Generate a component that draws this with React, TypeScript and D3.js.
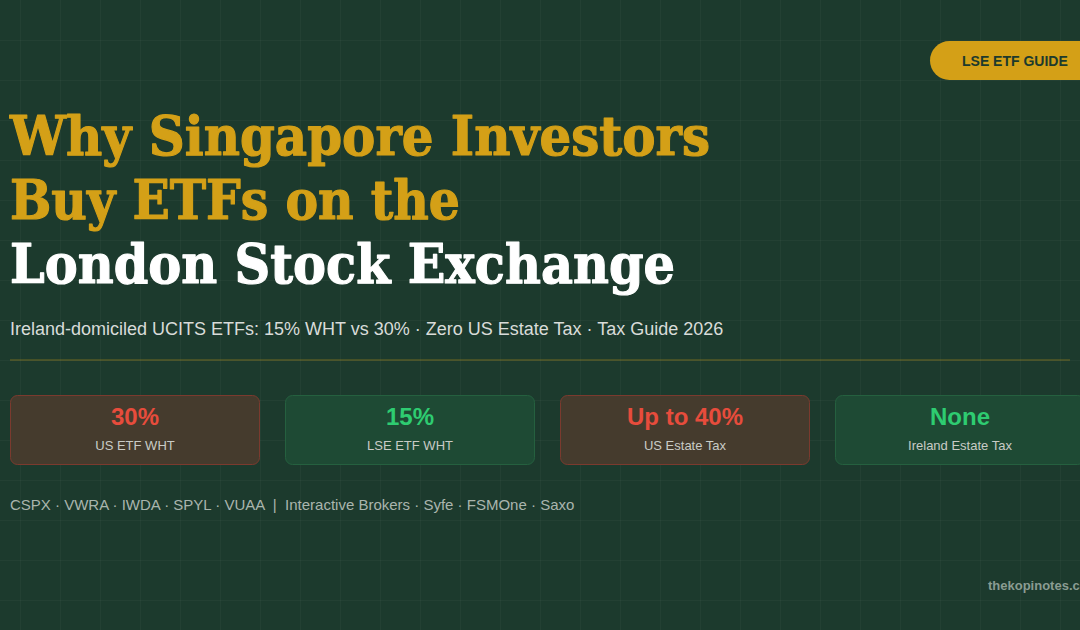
import React from "react";
import * as d3 from "d3";

// Title lines and their colours
const titleLines = ["Why Singapore Investors", "Buy ETFs on the", "London Stock Exchange"];
const titleTones = ["gold", "gold", "white"];
const titleWidths = [700, 450, 665];

const subtitle = "Ireland-domiciled UCITS ETFs: 15% WHT vs 30% · Zero US Estate Tax · Tax Guide 2026";

// Stat cards
const cardValues = ["30%", "15%", "Up to 40%", "None"];
const cardLabels = ["US ETF WHT", "LSE ETF WHT", "US Estate Tax", "Ireland Estate Tax"];
const cardTones = ["bad", "good", "bad", "good"];

// Footer lists
const tickers = ["CSPX", "VWRA", "IWDA", "SPYL", "VUAA"];
const brokers = ["Interactive Brokers", "Syfe", "FSMOne", "Saxo"];

const badgeText = "LSE ETF GUIDE";
const siteText = "thekopinotes.com";

const W = 1080;
const H = 630;
const BG = "#1c3a2d";
const GOLD = "#d4a017";

const tone = {
    bad: { fill: "#453b2d", stroke: "#7b3a2e", text: "#e74c3c" },
    good: { fill: "#1e4a34", stroke: "#25603f", text: "#2ecc71" },
};

export default function App() {
    const gridX = d3.range(20, W, 40);
    const gridY = d3.range(40, H, 40);

    const cardX = d3
        .scaleBand<number>()
        .domain(d3.range(cardValues.length))
        .range([10, 1085])
        .paddingInner(25 / 275)
        .paddingOuter(0);

    const lineY = d3
        .scaleLinear()
        .domain([0, titleLines.length - 1])
        .range([155, 283]);

    const footer = tickers.join(" · ") + "  |  " + brokers.join(" · ");

    return (
        <svg
            width={W}
            height={H}
            viewBox={`0 0 ${W} ${H}`}
            style={{ position: "fixed", top: 0, left: 0, display: "block" }}
        >
            <rect width={W} height={H} fill={BG} />
            <g stroke="#ffffff" strokeOpacity={0.03} strokeWidth={1}>
                {gridX.map((x) => (
                    <line key={"gx" + x} x1={x + 0.5} x2={x + 0.5} y1={0} y2={H} />
                ))}
                {gridY.map((y) => (
                    <line key={"gy" + y} x1={0} x2={W} y1={y + 0.5} y2={y + 0.5} />
                ))}
            </g>

            {/* badge */}
            <rect x={930} y={41} width={180} height={39} rx={19.5} fill={GOLD} />
            <text
                x={962}
                y={66}
                fontFamily="'Liberation Sans', Arial, sans-serif"
                fontWeight={700}
                fontSize={14}
                fill={BG}
            >
                {badgeText}
            </text>

            {/* title */}
            {titleLines.map((t, i) => {
                const col = titleTones[i] === "gold" ? GOLD : "#ffffff";
                return (
                    <text
                        key={t}
                        x={10}
                        y={lineY(i)}
                        fontFamily="Georgia, 'DejaVu Serif', serif"
                        fontWeight={700}
                        fontSize={55}
                        textLength={titleWidths[i]}
                        lengthAdjust="spacingAndGlyphs"
                        fill={col}
                        stroke={col}
                        strokeWidth={1.2}
                        strokeLinejoin="round"
                    >
                        {t}
                    </text>
                );
            })}

            <text
                x={10}
                y={335}
                fontFamily="'Liberation Sans', Arial, sans-serif"
                fontSize={18}
                fill="#d9dcd9"
            >
                {subtitle}
            </text>

            <line x1={10} x2={1070} y1={360} y2={360} stroke={GOLD} strokeOpacity={0.3} strokeWidth={1.5} />

            {/* cards */}
            {cardValues.map((v, i) => {
                const c = tone[cardTones[i] as "bad" | "good"];
                const x = cardX(i) as number;
                const bw = cardX.bandwidth();
                return (
                    <g key={v}>
                        <rect
                            x={x + 0.5}
                            y={395.5}
                            width={bw - 1}
                            height={69}
                            rx={7}
                            fill={c.fill}
                            stroke={c.stroke}
                            strokeWidth={1}
                        />
                        <text
                            x={x + bw / 2}
                            y={425}
                            textAnchor="middle"
                            fontFamily="'Liberation Sans', Arial, sans-serif"
                            fontWeight={700}
                            fontSize={24}
                            fill={c.text}
                        >
                            {v}
                        </text>
                        <text
                            x={x + bw / 2}
                            y={449.5}
                            textAnchor="middle"
                            fontFamily="'Liberation Sans', Arial, sans-serif"
                            fontSize={13}
                            fill="#c9cbc6"
                        >
                            {cardLabels[i]}
                        </text>
                    </g>
                );
            })}

            <text
                x={10}
                y={510}
                fontFamily="'Liberation Sans', Arial, sans-serif"
                fontSize={15}
                fill="#aab5ad"
                style={{ whiteSpace: "pre" }}
            >
                {footer}
            </text>

            <text
                x={988}
                y={590}
                fontFamily="'Liberation Sans', Arial, sans-serif"
                fontWeight={700}
                fontSize={13}
                fill="#8a9c92"
            >
                {siteText}
            </text>
        </svg>
    );
}
